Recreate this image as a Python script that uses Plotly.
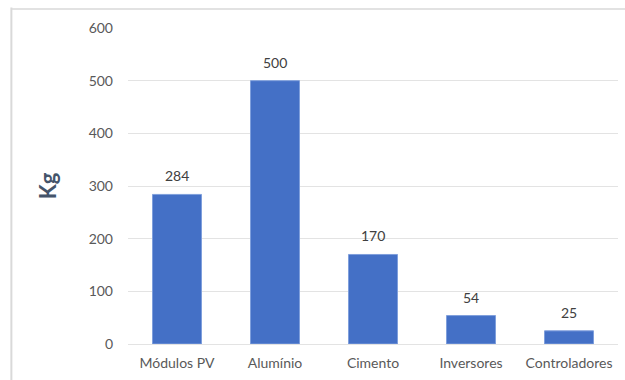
import plotly.graph_objects as go

# Mass of each component (kg)
materiais = ["Módulos PV", "Alumínio", "Cimento", "Inversores", "Controladores"]
massa_kg = [284, 500, 170, 54, 25]
y_ticks = [0, 100, 200, 300, 400, 500, 600]

fonte = "Lato"
cinza_texto = "#595959"

fig = go.Figure()
fig.add_trace(go.Bar(
    x=materiais,
    y=massa_kg,
    width=0.5,
    marker=dict(color="#4470c6", line=dict(color="#7f9fdc", width=1)),
    hoverinfo="x+y",
))

# value labels above each bar
for m, v in zip(materiais, massa_kg):
    fig.add_annotation(
        x=m, y=v, text=str(v), showarrow=False,
        yanchor="bottom", yshift=8,
        font=dict(family=fonte, size=14, color="#404040"),
    )

# y-axis title
fig.add_annotation(
    xref="paper", yref="paper", x=-0.133, y=0.5,
    xanchor="right",
    text="<b>Kg</b>", textangle=-90, showarrow=False,
    font=dict(family=fonte, size=22, color="#44546a"),
)

# thin frame along the top and left edges
fig.add_shape(type="line", xref="paper", yref="paper",
              x0=-0.238, x1=1.02, y0=1.06, y1=1.06,
              line=dict(color="#d9d9d9", width=1.5))
fig.add_shape(type="line", xref="paper", yref="paper",
              x0=-0.238, x1=-0.238, y0=1.065, y1=-0.2,
              line=dict(color="#d9d9d9", width=2))

fig.update_layout(
    width=625, height=380,
    margin=dict(l=128, r=7, t=28, b=36),
    paper_bgcolor="white", plot_bgcolor="white",
    showlegend=False,
    bargap=0.5,
    font=dict(family=fonte, size=14, color=cinza_texto),
    xaxis=dict(
        showline=False, showgrid=False, ticks="", ticklabelstandoff=9,
        tickfont=dict(family=fonte, size=14, color=cinza_texto),
    ),
    yaxis=dict(
        range=[0, 600], tickvals=y_ticks,
        showgrid=True, gridcolor="#e3e3e3", gridwidth=1,
        zeroline=True, zerolinecolor="#e3e3e3", zerolinewidth=1,
        showline=False, ticks="", ticklabelstandoff=14,
        tickfont=dict(family=fonte, size=14, color=cinza_texto),
    ),
)

fig.write_html("out.html")
